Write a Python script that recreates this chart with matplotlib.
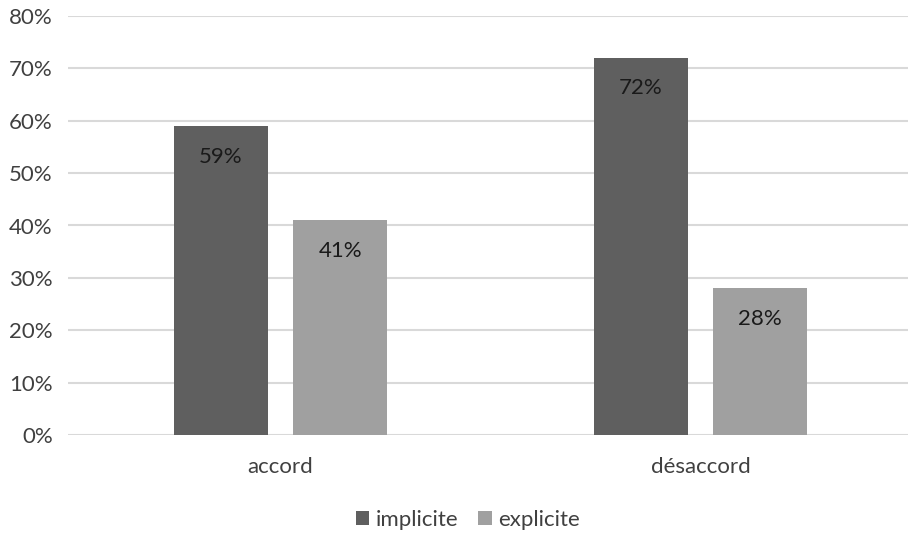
import numpy as np
import matplotlib.pyplot as plt

categories = ["accord", "désaccord"]
series_names = ["implicite", "explicite"]
implicite = [59, 72]
explicite = [41, 28]
yticks = [0, 10, 20, 30, 40, 50, 60, 70, 80]

colors = ["#5f5f5f", "#a0a0a0"]
text_color = "#404040"

plt.rcParams["font.family"] = ["Lato", "DejaVu Sans"]

fig = plt.figure(figsize=(9.08, 5.33), dpi=100)
ax = fig.add_axes([68 / 908, 1 - 435 / 533, 845 / 908, 419 / 533])

x = np.arange(len(categories))
width = 0.224
gap = 0.06
offsets = [-(width + gap) / 2, (width + gap) / 2]

for vals, off, col, name in zip([implicite, explicite], offsets, colors, series_names):
    bars = ax.bar(x + off, vals, width, color=col, label=name, zorder=3)
    for b, v in zip(bars, vals):
        ax.annotate(f"{v}%", (b.get_x() + b.get_width() / 2, v),
                    xytext=(0, -22), textcoords="offset points",
                    ha="center", va="center", fontsize=16, color="#1a1a1a", zorder=4)

ax.set_xlim(-0.506, 1.506)
ax.set_ylim(0, 80)
ax.set_yticks(yticks)
ax.set_yticklabels([f"{t}%" for t in yticks])
ax.set_xticks(x)
ax.set_xticklabels(categories)
ax.yaxis.grid(True, color="#d9d9d9", linewidth=1.5, zorder=0)
ax.tick_params(length=0, labelsize=16, colors=text_color)
ax.tick_params(axis="x", pad=16)
ax.tick_params(axis="y", pad=11)
for s in ax.spines.values():
    s.set_visible(False)

fig.legend(loc="center", bbox_to_anchor=(468 / 908, 1 - 520 / 533), ncol=2, frameon=False,
           fontsize=16, handlelength=0.6, handleheight=0.6, handletextpad=0.3,
           columnspacing=0.9, labelcolor=text_color)

fig.savefig("out.png", dpi=100)
